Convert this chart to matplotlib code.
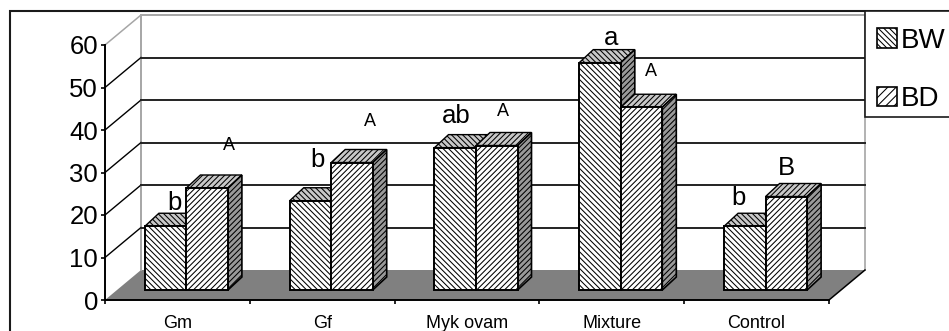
import matplotlib; matplotlib.use("Agg"); import matplotlib.pyplot as plt
from matplotlib.patches import Rectangle

plt.rcParams["font.family"] = ["Liberation Sans", "DejaVu Sans"]
plt.rcParams["hatch.linewidth"] = 0.75

categories = ["Gm", "Gf", "Myk ovam", "Mixture", "Control"]
bw = [15, 21, 33.5, 53.5, 15]
bd = [24, 30, 34, 43, 22]
y_ticks = [0, 10, 20, 30, 40, 50, 60]
bw_letters = ["b", "b", "ab", "a", "b"]
bd_letters = ["A", "A", "A", "A", "B"]

W, H = 949, 331
X0, X1, Y0, Y60 = 105, 829, 300, 45      # front plane of the box, in pixels
UX = (X1 - X0) / 5                       # pixels per category
UY = (Y0 - Y60) / 60                     # pixels per y unit
WALL_DX, WALL_DY = 36 / UX, 30 / UY      # depth of the whole box
BAR_DX, BAR_DY = 14 / UX, 13 / UY        # depth of one bar
SHIFT_X, BASE = 9 / UX, 10 / UY          # bars stand a little way into the floor
BAR_W = 41.5 / UX
GREY = "#808080"
LIGHT = "#a6a6a6"
HATCH_BW = "\\" * 6
HATCH_BD = "/" * 6


def px(x, y):
    return (x - X0) / UX, (Y0 - y) / UY


def bar3d(ax, left, value, hatch, z):
    top = BASE + value
    ax.bar(left, value, BAR_W, bottom=BASE, align="edge", facecolor="white", edgecolor="black",
           linewidth=1.4, hatch=hatch, zorder=z + 0.2, clip_on=False)
    # top face, then the darker right-hand face
    ax.fill([left, left + BAR_DX, left + BAR_W + BAR_DX, left + BAR_W],
            [top, top + BAR_DY, top + BAR_DY, top], facecolor="#c8c8c8", edgecolor="black",
            linewidth=1.0, hatch=hatch, zorder=z, clip_on=False)
    ax.fill([left + BAR_W, left + BAR_W + BAR_DX, left + BAR_W + BAR_DX, left + BAR_W],
            [BASE, BASE + BAR_DY, top + BAR_DY, top], facecolor="#999999", edgecolor="black",
            linewidth=1.2, hatch=HATCH_BD, zorder=z + 0.1, clip_on=False)


fig = plt.figure(figsize=(W / 100, H / 100), dpi=100)
ax = fig.add_axes([X0 / W, 1 - Y0 / H, (X1 - X0) / W, (Y0 - Y60) / H])
ax.set_xlim(0, 5); ax.set_ylim(0, 60)
ax.patch.set_visible(False)
for s in ("top", "right"): ax.spines[s].set_visible(False)
for s in ("left", "bottom"): ax.spines[s].set_linewidth(1.4)

# floor and walls
ax.fill([0, WALL_DX, 5 + WALL_DX, 5], [0, WALL_DY, WALL_DY, 0], color=GREY, lw=0, clip_on=False, zorder=1)
ax.plot([5, 5 + WALL_DX], [0, WALL_DY], color="black", lw=1.1, clip_on=False, zorder=1.5)
ax.plot([WALL_DX, WALL_DX], [WALL_DY, 60 + WALL_DY], color=LIGHT, lw=1.4, clip_on=False, zorder=1)
ax.plot([5 + WALL_DX, 5 + WALL_DX], [WALL_DY, 60 + WALL_DY], color=LIGHT, lw=1.2, clip_on=False, zorder=1)
ax.plot([WALL_DX, 5 + WALL_DX], [60 + WALL_DY, 60 + WALL_DY], color=LIGHT, lw=1.4, clip_on=False, zorder=1)
ax.plot([0, WALL_DX], [60, 60 + WALL_DY], color=LIGHT, lw=1.1, clip_on=False, zorder=1)
for v in y_ticks[1:-1]:
    ax.plot([0, WALL_DX], [v, v + WALL_DY], color="black", lw=1.0, clip_on=False, zorder=1)
    ax.plot([WALL_DX, 5 + WALL_DX], [v + WALL_DY, v + WALL_DY], color="#222222", lw=1.4, clip_on=False, zorder=1)

for i in range(len(categories)):
    mid = i + 0.5 + SHIFT_X
    bar3d(ax, mid - BAR_W, bw[i], HATCH_BW, 3 + 2 * i)
    bar3d(ax, mid, bd[i], HATCH_BD, 4 + 2 * i)

ax.set_yticks(y_ticks)
ax.tick_params(axis="y", labelsize=18.5, length=3, width=1.2, pad=2)
ax.set_xticks(range(6)); ax.set_xticklabels([])
ax.tick_params(axis="x", which="major", length=3, width=1.2)
ax.set_xticks([i + 0.5 for i in range(5)], categories, minor=True)
ax.tick_params(axis="x", which="minor", length=0, labelsize=13, pad=11)

# significance letters
big, small = 18.5, 13
letter_pos = [(175, 203, 229, 146), (318, 160, 370, 122), (456, 116, 503, 111),
              (611, 38, 651, 71), (739, 198, 786, 168)]
for i, (bx, by, dx, dy) in enumerate(letter_pos):
    ax.text(*px(bx, by), bw_letters[i], fontsize=big, ha="center", va="center", zorder=30, clip_on=False)
    fs = big if bd_letters[i] == "B" else small
    ax.text(*px(dx, dy), bd_letters[i], fontsize=fs, ha="center", va="center", zorder=30, clip_on=False)

# outer frame, running off the right and bottom edges
fig.add_artist(Rectangle((10 / W, -0.05), 1.1, 1.05 - 11 / H, transform=fig.transFigure,
                         fill=False, edgecolor="#1a1a1a", linewidth=1.5))
# legend box, also open on the right
fig.add_artist(Rectangle((865 / W, 1 - 117 / H), 0.2, 106 / H, transform=fig.transFigure,
                         facecolor="white", edgecolor="#1a1a1a", linewidth=1.2, zorder=40))

handles = [Rectangle((0, 0), 1, 1, facecolor="white", edgecolor="black", hatch="\\" * 6, linewidth=1.2),
           Rectangle((0, 0), 1, 1, facecolor="white", edgecolor="black", hatch="/" * 4, linewidth=1.2)]
leg = fig.legend(handles, ["BW", "BD"], loc="upper left", bbox_to_anchor=(877 / W, 1 - 28 / H),
                 fontsize=20, frameon=False, handlelength=0.72, handleheight=0.72, handletextpad=0.15,
                 labelspacing=1.16, borderpad=0, borderaxespad=0)
leg.set_zorder(41)

fig.savefig("out.png", dpi=100)
